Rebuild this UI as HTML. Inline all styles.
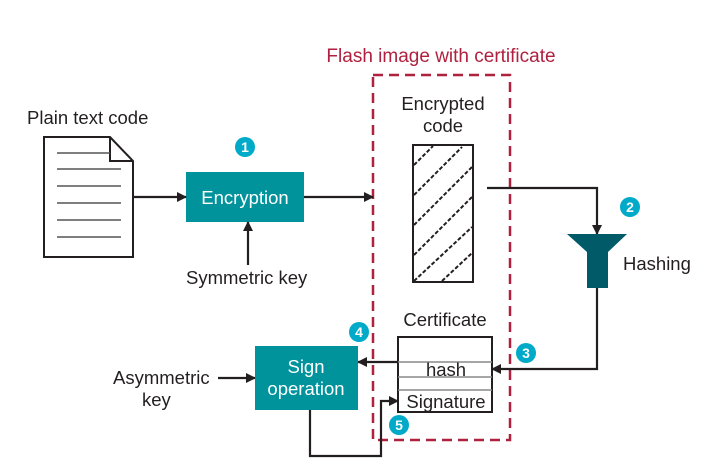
<!DOCTYPE html>
<html><head><meta charset="utf-8"><style>
html,body{margin:0;padding:0;background:#fff;}
svg{display:block;font-family:"Liberation Sans",Arial,sans-serif;}
</style></head><body>
<svg width="713" height="473" viewBox="0 0 713 473" xmlns="http://www.w3.org/2000/svg">
<defs>
<marker id="ah" markerWidth="10" markerHeight="10" refX="9" refY="5" orient="auto" markerUnits="userSpaceOnUse">
<path d="M0,0 L10,5 L0,10 z" fill="#231f20"/>
</marker>
</defs>
<g fill="#231f20" font-size="18.5">
<text x="27" y="124">Plain text code</text>
<text x="186" y="284">Symmetric key</text>
<text x="113" y="384">Asymmetric</text>
<text x="142" y="406">key</text>
<text x="443" y="110" text-anchor="middle">Encrypted</text>
<text x="443" y="132" text-anchor="middle">code</text>
<text x="445" y="326" text-anchor="middle">Certificate</text>
<text x="623" y="270">Hashing</text>
</g>
<text x="441" y="62" text-anchor="middle" fill="#b0203f" font-size="19">Flash image with certificate</text>
<rect x="373" y="75" width="137" height="365" fill="none" stroke="#b0203f" stroke-width="2.5" stroke-dasharray="10,6"/>
<!-- document -->
<path d="M44,137 L110,137 L133,161 L133,257 L44,257 Z" fill="#fff" stroke="#231f20" stroke-width="2"/>
<path d="M110,137 L110,161 L133,161" fill="none" stroke="#231f20" stroke-width="2"/>
<g stroke="#555" stroke-width="1.5">
<line x1="57" y1="153" x2="110" y2="153"/><line x1="57" y1="169" x2="121" y2="169"/>
<line x1="57" y1="186" x2="121" y2="186"/><line x1="57" y1="203" x2="121" y2="203"/>
<line x1="57" y1="220" x2="121" y2="220"/><line x1="57" y1="237" x2="121" y2="237"/>
</g>
<!-- encryption -->
<rect x="186" y="172" width="118" height="50" fill="#00939c"/>
<text x="245" y="204" text-anchor="middle" fill="#fff" font-size="18.5">Encryption</text>
<g stroke="#231f20" stroke-width="2.2" fill="none">
<line x1="133" y1="197" x2="186" y2="197" marker-end="url(#ah)"/>
<line x1="304" y1="197" x2="373" y2="197" marker-end="url(#ah)"/>
<line x1="248" y1="265" x2="248" y2="222" marker-end="url(#ah)"/>
<polyline points="487,188 597,188 597,234" marker-end="url(#ah)"/>
<polyline points="597,288 597,369 492,369" marker-end="url(#ah)"/>
<line x1="398" y1="362" x2="358" y2="362" marker-end="url(#ah)"/>
<line x1="218" y1="378" x2="255" y2="378" marker-end="url(#ah)"/>
<polyline points="310,410 310,456 381,456 381,401 398,401" marker-end="url(#ah)"/>
</g>
<!-- hatched box -->
<rect x="413" y="145" width="60" height="137" fill="#fff" stroke="#231f20" stroke-width="2"/>
<g stroke="#231f20" stroke-width="2" stroke-dasharray="4,2">
<line x1="414" y1="165" x2="433" y2="146"/>
<line x1="414" y1="195" x2="462" y2="147"/>
<line x1="414" y1="225" x2="472" y2="167"/>
<line x1="414" y1="255" x2="472" y2="197"/>
<line x1="414" y1="281" x2="472" y2="227"/>
<line x1="442" y1="281" x2="472" y2="253"/>
</g>
<!-- funnel -->
<path d="M567,234 L627,234 L608,252 L608,288 L587,288 L587,252 Z" fill="#005a68"/>
<!-- certificate -->
<rect x="398" y="337" width="94" height="75" fill="#fff" stroke="#231f20" stroke-width="2"/>
<g stroke="#888" stroke-width="1.5">
<line x1="398" y1="362" x2="492" y2="362"/><line x1="398" y1="377" x2="492" y2="377"/><line x1="398" y1="390" x2="492" y2="390"/>
</g>
<text x="446" y="376" text-anchor="middle" fill="#231f20" font-size="18.5">hash</text>
<text x="446" y="408" text-anchor="middle" fill="#231f20" font-size="18.5">Signature</text>
<!-- sign -->
<rect x="255" y="346" width="103" height="64" fill="#00939c"/>
<text x="306" y="373" text-anchor="middle" fill="#fff" font-size="18.5">Sign</text>
<text x="306" y="395" text-anchor="middle" fill="#fff" font-size="18.5">operation</text>
<!-- numbered circles -->
<g font-size="14" font-weight="bold" fill="#fff" text-anchor="middle">
<circle cx="245" cy="147" r="10" fill="#00aac8"/><text x="245" y="152">1</text>
<circle cx="630" cy="207" r="10" fill="#00aac8"/><text x="630" y="212">2</text>
<circle cx="526" cy="353" r="10" fill="#00aac8"/><text x="526" y="358">3</text>
<circle cx="359" cy="332" r="10" fill="#00aac8"/><text x="359" y="337">4</text>
<circle cx="399" cy="425" r="10" fill="#00aac8"/><text x="399" y="430">5</text>
</g>
</svg>
</body></html>
